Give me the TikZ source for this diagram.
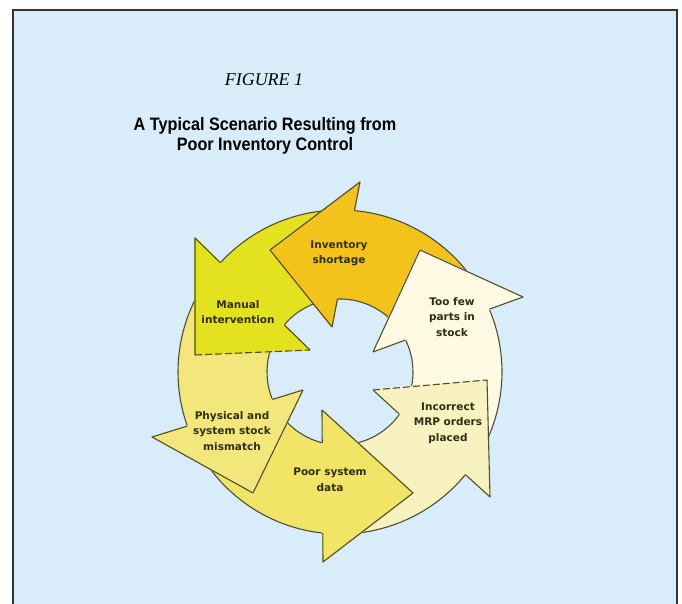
\documentclass[tikz,border=0pt]{standalone}
\usepackage{fontspec}
\setmainfont{Liberation Serif}
\newfontfamily\titlefont[FakeStretch=0.9]{Liberation Sans}
\newfontfamily\labelfont{DejaVu Sans}
\usetikzlibrary{calc}

\definecolor{paper}{HTML}{D8EDF9}
\definecolor{framegray}{HTML}{333333}
\definecolor{outline}{HTML}{4E4E34}
\definecolor{labeltext}{HTML}{2E2E14}
\definecolor{cInv}{HTML}{F3C31C}
\definecolor{cMan}{HTML}{E4E21E}
\definecolor{cPhy}{HTML}{F3E67A}
\definecolor{cPoor}{HTML}{F2E466}
\definecolor{cMRP}{HTML}{F8F1C0}
\definecolor{cFew}{HTML}{FDF9E2}

\tikzset{
  edge/.style={draw=outline, line width=1.1pt, line join=round},
  softedge/.style={edge, dash pattern=on 7pt off 3pt},
  lbl/.style={font=\labelfont\bfseries\fontsize{10.5}{15.5}\selectfont,
              text=labeltext, align=center, inner sep=0pt},
}

\begin{document}
\begin{tikzpicture}[x=1pt,y=1pt]
\useasboundingbox (0,0) rectangle (682,604);
\fill[white] (0,0) rectangle (682,604);
\fill[paper] (13,0) rectangle (677,594);
\draw[framegray, line width=1.6pt] (13,0) -- (13,594) -- (677,594) -- (677,0);

% headings
\node[anchor=base, font=\fontsize{18}{20}\selectfont\itshape] (figno) at (264,518) {FIGURE 1};
\node[align=center, font=\titlefont\bfseries\fontsize{18}{19.5}\selectfont] (title) at (265,468)
  {A Typical Scenario Resulting from\\Poor Inventory Control};

% ring of six arrows
\coordinate (C) at (340,232);
\def\Ro{162}
\def\Ri{73}

% arrow heads: inner barb I, outer barb O, tip T
\coordinate (InvI) at (332,277);  \coordinate (InvO) at (360,422);  \coordinate (InvT) at (270,354);
\coordinate (ManI) at (310,254);  \coordinate (ManO) at (195,366);  \coordinate (ManT) at (195,249);
\coordinate (PhyI) at (303,214);  \coordinate (PhyO) at (152,167);  \coordinate (PhyT) at (253,111);
\coordinate (PoorI) at (322,194); \coordinate (PoorO) at (323,42);  \coordinate (PoorT) at (413,111);
\coordinate (MRPI) at (373,214);  \coordinate (MRPO) at (490,107);  \coordinate (MRPT) at (487,224);
\coordinate (FewI) at (373,252);  \coordinate (FewO) at (523,307);  \coordinate (FewT) at (420,354);

% bodies: ring segment from the previous head's base to this head, plus the head
\foreach \ao/\ai/\bo/\bi/\nm in {
    22.8/26.0/84.9/92.0/Inv,
    84.9/92.0/137.6/139.8/Man,
    137.6/139.8/199.5/202.1/Phy,
    199.5/202.1/263.9/255.9/Poor,
    263.9/255.9/320.7/324.6/MRP,
    320.7/324.6/382.8/386.0/Few}{
  \fill[c\nm] ($(C)+(\ao:\Ro)$) arc[start angle=\ao, end angle=\bo, radius=\Ro]
     -- (\nm O) -- (\nm T) -- (\nm I) -- ($(C)+(\bi:\Ri)$)
     arc[start angle=\bi, end angle=\ai, radius=\Ri] -- cycle;
}
% ring edges
\foreach \ao/\ai/\bo/\bi in {
    22.8/26.0/84.9/92.0, 84.9/92.0/137.6/139.8, 137.6/139.8/199.5/202.1,
    199.5/202.1/263.9/255.9, 263.9/255.9/320.7/324.6, 320.7/324.6/382.8/386.0}{
  \draw[edge] ($(C)+(\ao:\Ro)$) arc[start angle=\ao, end angle=\bo, radius=\Ro];
  \draw[edge] ($(C)+(\bi:\Ri)$) arc[start angle=\bi, end angle=\ai, radius=\Ri];
}
% heads lie over the next arrow's tail
\foreach \bo/\bi/\nm in {84.9/92.0/Inv, 137.6/139.8/Man, 199.5/202.1/Phy,
                         263.9/255.9/Poor, 320.7/324.6/MRP, 382.8/386.0/Few}{
  \filldraw[fill=c\nm, draw=c\nm, line width=1.2pt, line join=round]
     (\nm O) -- (\nm T) -- (\nm I) -- cycle;
  \draw[edge] ($(C)+(\bo:\Ro)$) -- (\nm O) -- (\nm T);
  \draw[edge] (\nm I) -- ($(C)+(\bi:\Ri)$);
}
\draw[edge] (InvT) -- (InvI);
\draw[softedge] (ManT) -- (ManI);
\draw[edge] (PhyT) -- (PhyI);
\draw[edge] (PoorT) -- (PoorI);
\draw[softedge] (MRPI) -- (MRPT);
\draw[edge] (FewT) -- (FewI);

% labels
\node[lbl] (lInv)  at (339,350.5) {Inventory\\shortage};
\node[lbl] (lMan)  at (238,292)   {Manual\\intervention};
\node[lbl] (lFew)  at (452,287)   {Too few\\parts in\\stock};
\node[lbl] (lMRP)  at (448,181)   {Incorrect\\MRP orders\\placed};
\node[lbl] (lPhy)  at (232,173)   {Physical and\\system stock\\mismatch};
\node[lbl] (lPoor) at (330,124)   {Poor system\\data};
\end{tikzpicture}
\end{document}
